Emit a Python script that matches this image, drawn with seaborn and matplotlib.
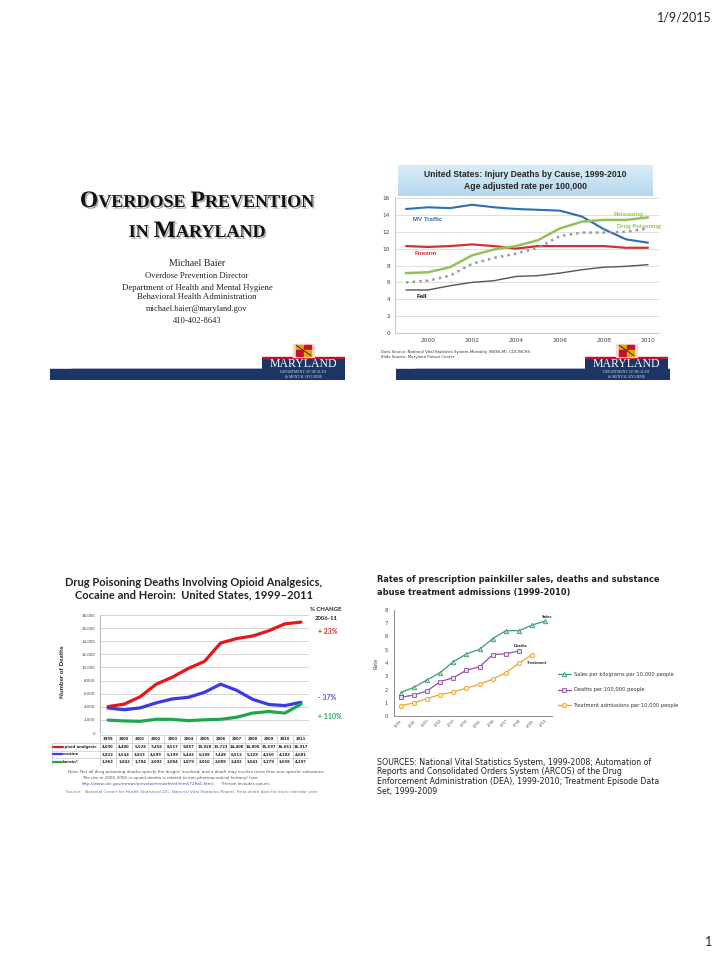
import numpy as np
import pandas as pd
import matplotlib.pyplot as plt
import matplotlib.patheffects as pe
from matplotlib.patches import Rectangle
import seaborn as sns

sns.set_theme(style="white")
plt.rcParams['font.family'] = ['DejaVu Sans']

# ---- data: injury deaths by cause (rate per 100,000) ----
inj_years = list(range(1999, 2011))
mv_traffic = [14.7, 14.9, 14.8, 15.2, 14.9, 14.7, 14.6, 14.5, 13.8, 12.3, 11.1, 10.7]
firearm = [10.3, 10.2, 10.3, 10.5, 10.3, 10.0, 10.3, 10.3, 10.3, 10.3, 10.1, 10.1]
poisoning = [7.1, 7.2, 7.8, 9.2, 9.9, 10.3, 11.0, 12.4, 13.2, 13.4, 13.4, 13.7]
drug_poisoning = [6.0, 6.2, 6.8, 8.2, 8.9, 9.4, 10.1, 11.5, 11.9, 11.9, 12.0, 12.4]
fall = [5.1, 5.1, 5.6, 6.0, 6.2, 6.7, 6.8, 7.1, 7.5, 7.8, 7.9, 8.1]

# ---- data: drug poisoning deaths 1999-2011 ----
dp_years = list(range(1999, 2012))
opioid = [4030, 4400, 5528, 7456, 8517, 9857, 10928, 13723, 14408, 14800, 15597, 16651, 16917]
cocaine = [3822, 3544, 3833, 4599, 5199, 5443, 6208, 7448, 6512, 5129, 4350, 4183, 4681]
heroin = [1963, 1843, 1784, 2092, 2084, 1879, 2010, 2089, 2402, 3041, 3279, 3038, 4397]
dp_labels = ['opioid analgesic', 'cocaine', 'heroin*']
pct_change = ['+ 23%', '- 37%', '+ 110%']

# ---- data: painkiller sales, deaths, treatment ----
rx_years = list(range(1999, 2011))
sales = [1.76, 2.16, 2.72, 3.27, 4.1, 4.68, 5.03, 5.84, 6.44, 6.44, 6.87, 7.17]
deaths = [1.41, 1.58, 1.89, 2.59, 2.89, 3.45, 3.72, 4.63, 4.70, 4.90]
treatment = [0.78, 0.98, 1.31, 1.61, 1.81, 2.11, 2.39, 2.79, 3.27, 4.0, 4.63]
rx_legend = ['Sales per kilograms per 10,000 people', 'Deaths per 100,000 people',
             'Treatment admissions per 10,000 people']

W, H = 720, 955
fig = plt.figure(figsize=(7.2, 9.55), dpi=100)
renderer = fig.canvas.get_renderer()


def box(x0, y0, x1, y1):
    return [x0 / W, 1 - y1 / H, (x1 - x0) / W, (y1 - y0) / H]


def fx(x):
    return x / W


def fy(y):
    return 1 - y / H


navy = '#1d3565'


def logo(x0, x1, y0=343, y1=380):
    a = fig.add_axes(box(x0, y0, x1, y1))
    a.set_xlim(0, 1)
    a.set_ylim(1, 0)
    a.axis('off')
    a.add_patch(Rectangle((0, 0.40), 1, 0.62, color=navy))
    a.add_patch(Rectangle((0, 0.37), 1, 0.04, color='#c8102e'))
    # little flag shield
    cx = 0.5
    a.add_patch(Rectangle((cx - 0.13, 0.02), 0.26, 0.36, color='#f3d9d9'))
    for i, c in enumerate(['#e2a800', '#c8102e', '#c8102e', '#e2a800']):
        a.add_patch(Rectangle((cx - 0.09 + (i % 2) * 0.09, 0.06 + (i // 2) * 0.14), 0.09, 0.14,
                              color=c))
    a.plot([cx - 0.09, cx + 0.09], [0.06, 0.34], color='k', lw=0.6)
    a.text(0.5, 0.56, 'MARYLAND', color='white', fontsize=8.5, ha='center', va='center',
           family='Liberation Serif')
    a.text(0.5, 0.78, 'DEPARTMENT OF HEALTH', color='#c9d4ea', fontsize=2.8, ha='center',
           va='center', family='Liberation Serif')
    a.text(0.5, 0.92, '& MENTAL HYGIENE', color='#c9d4ea', fontsize=2.8, ha='center',
           va='center', family='Liberation Serif')


def slide_bar(x0, x1):
    a = fig.add_axes(box(x0, 367, x1, 380))
    a.set_xlim(0, 1)
    a.set_ylim(1, 0)
    a.axis('off')
    a.add_patch(Rectangle((0, 0.15), 1, 0.85, color=navy))
    a.plot([0.07, 0.72], [0.1, 0.1], color='#9aa6bf', lw=0.6)


# ---------------- header / footer ----------------
fig.text(fx(712), fy(18), '1/9/2015', fontsize=9, ha='right', va='center', family='Lato')
fig.text(fx(712), fy(942), '1', fontsize=9, ha='right', va='center', family='Lato')

# ---------------- slide 1: title slide ----------------
slide_bar(50, 345)
logo(262, 345)


def smallcaps(parts, xc, y):
    items = []
    total = 0
    for s, size, gap in parts:
        t = fig.text(0, fy(y), s, fontsize=size, ha='left', va='baseline',
                     family='Liberation Serif', weight='bold', color='#111111',
                     path_effects=[pe.withSimplePatchShadow(offset=(1.2, -1.2),
                                                           shadow_rgbFace='#777777', alpha=0.6)])
        w = t.get_window_extent(renderer).width
        items.append((t, w, gap))
        total += w + gap
    x = xc - total / 2
    for t, w, gap in items:
        t.set_x(fx(x))
        x += w + gap


smallcaps([('O', 17, 0), ('VERDOSE', 13, 5), ('P', 17, 0), ('REVENTION', 13, 0)], 197, 207)
smallcaps([('IN', 13, 5), ('M', 17, 0), ('ARYLAND', 13, 0)], 197, 237)

info = [('Michael Baier', 263, 7), ('Overdose Prevention Director', 276, 6.1),
        ('Department of Health and Mental Hygiene', 288, 6.3),
        ('Behavioral Health Administration', 297, 6.3),
        ('michael.baier@maryland.gov', 309, 6.1), ('410-402-8643', 321, 6.1)]
for s, y, size in info:
    fig.text(fx(197), fy(y), s, fontsize=size, ha='center', va='center',
             family='Liberation Serif', color='#222222')

# ---------------- slide 2: injury deaths by cause ----------------
slide_bar(396, 670)
logo(585, 668)

tb = fig.add_axes(box(398, 165, 652, 196))
tb.axis('off')
tb.imshow(np.linspace(0, 1, 50).reshape(-1, 1), aspect='auto', extent=(0, 1, 0, 1),
          cmap=sns.blend_palette(['#d9edf8', '#b5d7ee'], as_cmap=True))
tb.set_xlim(0, 1)
tb.set_ylim(0, 1)
tb.text(0.5, 0.68, 'United States: Injury Deaths by Cause, 1999-2010', fontsize=6.2,
        weight='bold', ha='center', va='center', family='Liberation Sans')
tb.text(0.5, 0.3, 'Age adjusted rate per 100,000', fontsize=6.2, weight='bold',
        ha='center', va='center', family='Liberation Sans')

ax2 = fig.add_axes(box(395, 198, 659, 333))
for vals, col, lw, ls in [(fall, '#555555', 1.0, '-'), (firearm, '#cc3333', 1.6, '-'),
                          (mv_traffic, '#2e6fb0', 1.5, '-'), (poisoning, '#94c15b', 1.8, '-'),
                          (drug_poisoning, '#9a9a9a', 1.8, ':')]:
    sns.lineplot(x=inj_years, y=vals, ax=ax2, color=col, lw=lw, linestyle=ls)
ax2.set_xlim(1998.5, 2010.5)
ax2.set_ylim(0, 16)
ax2.set_yticks(range(0, 17, 2))
ax2.set_xticks(range(2000, 2011, 2))
ax2.yaxis.grid(True, color='#d9d9d9', lw=0.6)
ax2.tick_params(axis='both', labelsize=4.2, colors='#444444', length=1.5, pad=2)
for s in ['top', 'right']:
    ax2.spines[s].set_visible(False)
for s in ['left', 'bottom']:
    ax2.spines[s].set_color('#bbbbbb')
    ax2.spines[s].set_linewidth(0.6)
ax2.text(1999.3, 13.5, 'MV Traffic', color='#2e6fb0', fontsize=4.4, weight='bold',
         family='Liberation Sans', va='center')
ax2.text(1999.4, 9.4, 'Firearm', color='#d03030', fontsize=4.4, weight='bold',
         family='Liberation Sans', va='center')
ax2.text(2009.1, 14.1, 'Poisoning', color='#94c15b', fontsize=4.4, weight='bold',
         family='Liberation Sans', va='center', ha='center')
ax2.text(2009.6, 12.65, 'Drug Poisoning', color='#94c15b', fontsize=4.2, weight='bold',
         family='Liberation Sans', va='center', ha='center')
ax2.text(1999.5, 4.3, 'Fall', color='#111111', fontsize=4.4, weight='bold',
         family='Liberation Sans', va='center')
fig.text(fx(381), fy(352), 'Data Source: National Vital Statistics System-Mortality (NVSS-M), CDC/NCHS',
         fontsize=2.8, va='center', color='#333333')
fig.text(fx(381), fy(357), 'Slide Source: Maryland Poison Center', fontsize=2.8, va='center',
         color='#333333')

# ---------------- slide 3: drug poisoning deaths ----------------
fig.text(fx(194), fy(583), 'Drug Poisoning Deaths Involving Opioid Analgesics,', fontsize=8,
         weight='bold', ha='center', va='center', family='Lato', color='#222222')
fig.text(fx(194), fy(595), 'Cocaine and Heroin:  United States, 1999\u20132011', fontsize=8,
         weight='bold', ha='center', va='center', family='Lato', color='#222222')

ax3 = fig.add_axes(box(100, 615, 309, 733))
dp_colors = ['#e8161c', '#3a3ae6', '#1ea84c']
for vals, col in zip([opioid, cocaine, heroin], dp_colors):
    sns.lineplot(x=dp_years, y=vals, ax=ax3, color=col, lw=2.3)
ax3.set_xlim(1998.5, 2011.5)
ax3.set_ylim(0, 18000)
ax3.set_yticks(range(0, 18001, 2000))
ax3.set_yticklabels([f'{v:,}' for v in range(0, 18001, 2000)])
ax3.set_xticks([])
ax3.yaxis.grid(True, color='#cfcfcf', lw=0.6)
ax3.tick_params(axis='y', labelsize=2.9, colors='#444444', length=1.5, pad=2)
for s in ['top', 'right', 'bottom']:
    ax3.spines[s].set_visible(False)
ax3.spines['left'].set_color('#aaaaaa')
ax3.spines['left'].set_linewidth(0.6)
fig.text(fx(63), fy(672), 'Number of Deaths', rotation=90, fontsize=4.6, weight='bold',
         ha='center', va='center', family='Lato', color='#222222')

fig.text(fx(326), fy(609), '% CHANGE', fontsize=4.3, weight='bold', ha='center', va='center',
         family='Lato', color='#222222')
fig.text(fx(326), fy(618), '2006-11', fontsize=4.3, weight='bold', ha='center', va='center',
         family='Lato', color='#222222')
for txt, y, col in zip(pct_change, [631, 697, 716], ['#e02424', '#5b55d0', '#23a85a']):
    fig.text(fx(318), fy(y), txt, fontsize=5, weight='bold', va='center', family='Lato',
             color=col)

# data table under the chart
xl = 1998.5 - (100 - 52) / (209 / 13)
tab = fig.add_axes(box(52, 735, 309, 766))
tab.set_xlim(xl, 2011.5)
tab.set_ylim(4, 0)
tab.axis('off')
grid_c = '#c8c8c8'
for r in range(5):
    tab.plot([xl if r >= 1 else 1998.5, 2011.5], [r, r], color=grid_c, lw=0.5)
for i in range(14):
    tab.plot([1998.5 + i] * 2, [0, 4], color=grid_c, lw=0.5)
tab.plot([xl, xl], [1, 4], color=grid_c, lw=0.5)
for i, yr in enumerate(dp_years):
    tab.text(yr, 0.5, str(yr), fontsize=2.7, weight='bold', ha='center', va='center',
             color='#222222')
for r, (vals, col, lab) in enumerate(zip([opioid, cocaine, heroin], dp_colors, dp_labels)):
    tab.plot([xl + 0.05, xl + 0.65], [r + 1.5] * 2, color=col, lw=1.6)
    tab.text(xl + 0.65, r + 1.5, lab, fontsize=2.7, weight='bold', va='center',
             color='#222222')
    for yr, v in zip(dp_years, vals):
        tab.text(yr, r + 1.5, f'{v:,}', fontsize=2.7, weight='bold', ha='center',
                 va='center', color='#222222')

note_c = '#555555'
nfs = 3.0
fig.text(fx(68), fy(772), 'Note: Not all drug poisoning deaths specify the drug(s) involved, and a death '
         'may involve more than one specific substance.', fontsize=nfs, va='center', color=note_c)
fig.text(fx(82), fy(778), 'The rise in 2005-2006 in opioid deaths is related to non-pharmaceutical '
         'fentanyl (see', fontsize=nfs, va='center', color=note_c)
link = fig.text(fx(82), fy(784), 'http://www.cdc.gov/mmwr/preview/mmwrhtml/mm5729a1.htm).',
                fontsize=nfs, va='center', color='#3b4fb8')
lx = link.get_window_extent(renderer).x1
fig.text(fx(lx + 5), fy(784), '*Heroin includes opium.', fontsize=nfs, va='center', color=note_c)
fig.text(fx(66), fy(792), 'Source:   National Center for Health Statistics/CDC, National Vital '
         'Statistics Report, Final death data for each calendar year', fontsize=nfs,
         va='center', color='#6a7aa8')

# ---------------- slide 4: painkiller sales ----------------
fig.text(fx(377), fy(579), 'Rates of prescription painkiller sales, deaths and substance',
         fontsize=5.95, weight='bold', va='center', color='#222222')
fig.text(fx(377), fy(592), 'abuse treatment admissions (1999-2010)', fontsize=5.95,
         weight='bold', va='center', color='#222222')

ax4 = fig.add_axes(box(394, 610, 552, 716))
rx_series = [(sales, '#3a9c6c', '#bfe3cf', '^'), (deaths, '#8e4fa8', '#e7d6ef', 's'),
             (treatment, '#efa52a', '#fbe6c0', 'o')]
for (vals, col, face, mk), lab in zip(rx_series, rx_legend):
    sns.lineplot(x=rx_years[:len(vals)], y=vals, ax=ax4, color=col, lw=0.9, marker=mk,
                 markersize=3.2, markerfacecolor=face, markeredgecolor=col,
                 markeredgewidth=0.6, label=lab)
ax4.set_xlim(1998.5, 2010.5)
ax4.set_ylim(0, 8)
ax4.set_yticks(range(0, 9))
ax4.set_xticks(rx_years)
ax4.set_xticklabels([str(y) for y in rx_years], rotation=45, ha='right', rotation_mode='anchor')
ax4.tick_params(axis='y', labelsize=3.8, colors='#444444', length=1.5, pad=3)
ax4.tick_params(axis='x', labelsize=2.6, colors='#555555', length=0, pad=2)
for s in ['top', 'right']:
    ax4.spines[s].set_visible(False)
for s in ['left', 'bottom']:
    ax4.spines[s].set_color('#777777')
    ax4.spines[s].set_linewidth(0.6)
ax4.set_ylabel('Rate', fontsize=3.5, color='#444444', labelpad=4)
ax4.text(2010.1, 7.5, 'Sales', fontsize=2.5, weight='bold', ha='center', va='center',
         color='#333333')
ax4.text(2008.1, 5.28, 'Deaths', fontsize=2.5, weight='bold', ha='center', va='center',
         color='#333333')
ax4.text(2009.4, 4.03, 'Treatment', fontsize=2.5, weight='bold', ha='center', va='center',
         color='#333333')
ax4.legend(loc='upper left', bbox_to_anchor=(fx(553), fy(667)), bbox_transform=fig.transFigure,
           frameon=False, fontsize=3.7, labelspacing=2.1, handlelength=2.6, handletextpad=0.5,
           labelcolor='#333333')

src = ['SOURCES: National Vital Statistics System, 1999-2008; Automation of',
       'Reports and Consolidated Orders System (ARCOS) of the Drug',
       'Enforcement Administration (DEA), 1999-2010; Treatment Episode Data',
       'Set, 1999-2009']
for i, line in enumerate(src):
    fig.text(fx(377), fy(762 + i * 9.8), line, fontsize=5.7, va='center', color='#222222')

fig.savefig('out.png', dpi=100)
